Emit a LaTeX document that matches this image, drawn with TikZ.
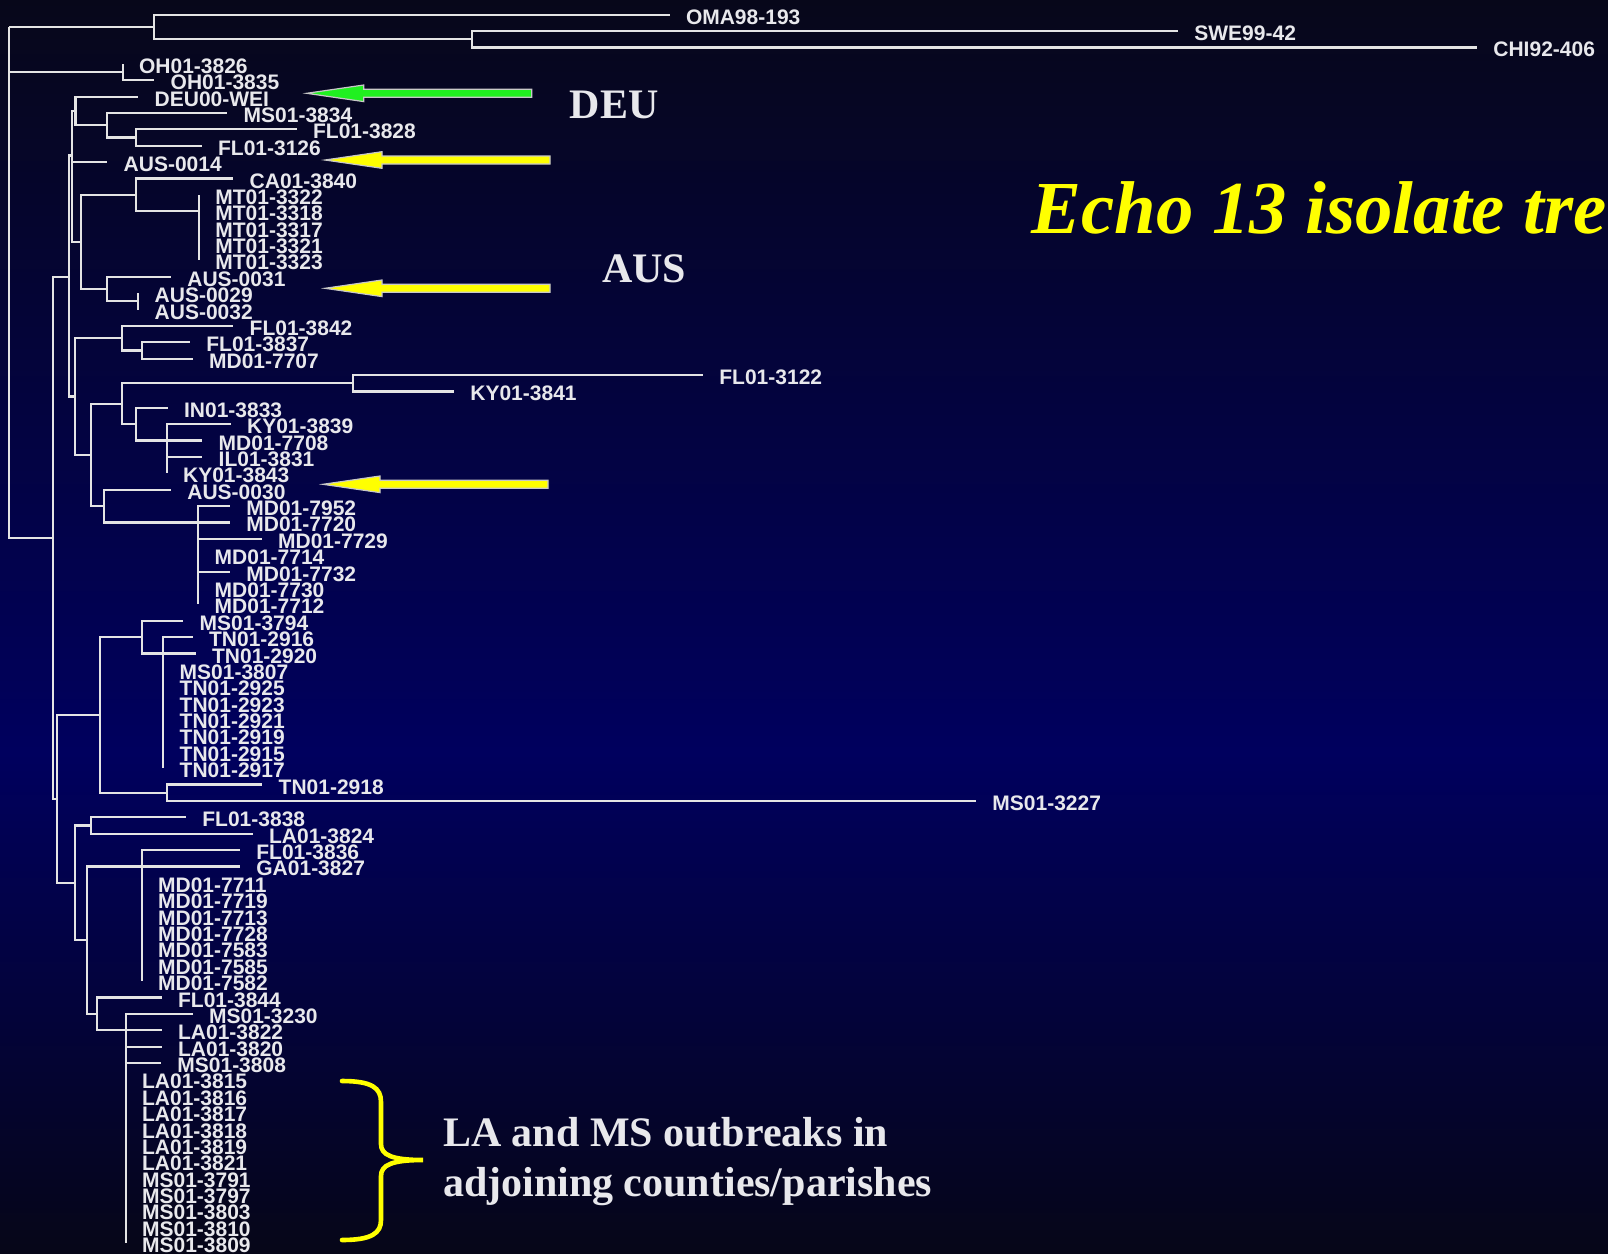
\documentclass[tikz,border=0pt]{standalone}
\usepackage{fontspec}
\setmainfont{Liberation Serif}
\newfontfamily\isofont{Liberation Sans}
\definecolor{bgtop}{HTML}{07071A}
\definecolor{bgmid}{HTML}{00005E}
\definecolor{bgbot}{HTML}{060618}
\definecolor{branchgray}{HTML}{E4E4E4}
\definecolor{labelgray}{HTML}{E8E8EC}
\definecolor{flaggreen}{HTML}{20F020}
\definecolor{flagyellow}{HTML}{FFFF00}
\definecolor{rimgray}{HTML}{C8C8C8}
\pgfdeclareverticalshading{navyfade}{100bp}{color(0bp)=(bgbot); color(25bp)=(bgbot);
   color(45bp)=(bgmid); color(75bp)=(bgtop); color(100bp)=(bgtop)}
% y position of the i-th isolate row
\newcommand{\rowy}[1]{14.7+16.38*#1}

\begin{document}
\begin{tikzpicture}[
   x=0.5pt, y=-0.5pt,
   branch/.style={draw=branchgray, line width=1.1pt},
   leaf/.style={anchor=west, inner xsep=8pt, inner ysep=1pt, text=labelgray,
      text height=9.5pt, text depth=0pt,
      font=\isofont\bfseries\fontsize{10.5}{11}\selectfont},
   tag/.style={anchor=base west, inner sep=0pt, text=labelgray,
      font=\bfseries\fontsize{21}{25.3}\selectfont},
   pointer/.style={draw=rimgray, line width=0.6pt, line join=miter},
   brace/.style={draw=flagyellow, line width=2.3pt, line cap=round}
]
\useasboundingbox (0,0) rectangle (1608,1254);
\shade[shading=navyfade] (0,0) rectangle (1608,1254);

% isolates
\node[leaf] (oma) at (669.6,\rowy{0}) {OMA98-193};
\node[leaf] (swe) at (1178,\rowy{1}) {SWE99-42};
\node[leaf] (chi) at (1477,\rowy{2}) {CHI92-406};
\node[leaf] (oh26) at (122.7,\rowy{3}) {OH01-3826};
\node[leaf] (oh35) at (154.3,\rowy{4}) {OH01-3835};
\node[leaf] (deu) at (138.3,\rowy{5}) {DEU00-WEI};
\node[leaf] (ms34) at (227.3,\rowy{6}) {MS01-3834};
\node[leaf] (fl28) at (296.7,\rowy{7}) {FL01-3828};
\node[leaf] (fl26) at (201.7,\rowy{8}) {FL01-3126};
\node[leaf] (aus14) at (107.3,\rowy{9}) {AUS-0014};
\node[leaf] (ca40) at (233.3,\rowy{10}) {CA01-3840};
\node[leaf] (mt22) at (199,\rowy{11}) {MT01-3322};
\node[leaf] (mt18) at (199,\rowy{12}) {MT01-3318};
\node[leaf] (mt17) at (199,\rowy{13}) {MT01-3317};
\node[leaf] (mt21) at (199,\rowy{14}) {MT01-3321};
\node[leaf] (mt23) at (199,\rowy{15}) {MT01-3323};
\node[leaf] (aus31) at (171,\rowy{16}) {AUS-0031};
\node[leaf] (aus29) at (138.3,\rowy{17}) {AUS-0029};
\node[leaf] (aus32) at (138.3,\rowy{18}) {AUS-0032};
\node[leaf] (fl42) at (233.3,\rowy{19}) {FL01-3842};
\node[leaf] (fl37) at (190,\rowy{20}) {FL01-3837};
\node[leaf] (md07) at (192.7,\rowy{21}) {MD01-7707};
\node[leaf] (fl22) at (703,\rowy{22}) {FL01-3122};
\node[leaf] (ky41) at (454,\rowy{23}) {KY01-3841};
\node[leaf] (in33) at (167.7,\rowy{24}) {IN01-3833};
\node[leaf] (ky39) at (230.7,\rowy{25}) {KY01-3839};
\node[leaf] (md08) at (202.3,\rowy{26}) {MD01-7708};
\node[leaf] (il31) at (202.3,\rowy{27}) {IL01-3831};
\node[leaf] (ky43) at (166.7,\rowy{28}) {KY01-3843};
\node[leaf] (aus30) at (171,\rowy{29}) {AUS-0030};
\node[leaf] (md52) at (230,\rowy{30}) {MD01-7952};
\node[leaf] (md20) at (230,\rowy{31}) {MD01-7720};
\node[leaf] (md29) at (261.7,\rowy{32}) {MD01-7729};
\node[leaf] (md14) at (198.3,\rowy{33}) {MD01-7714};
\node[leaf] (md32) at (230,\rowy{34}) {MD01-7732};
\node[leaf] (md30) at (198.3,\rowy{35}) {MD01-7730};
\node[leaf] (md12) at (198.3,\rowy{36}) {MD01-7712};
\node[leaf] (ms94) at (183.3,\rowy{37}) {MS01-3794};
\node[leaf] (tn16) at (192.7,\rowy{38}) {TN01-2916};
\node[leaf] (tn20) at (195.7,\rowy{39}) {TN01-2920};
\node[leaf] (ms07) at (163.3,\rowy{40}) {MS01-3807};
\node[leaf] (tn25) at (163.3,\rowy{41}) {TN01-2925};
\node[leaf] (tn23) at (163.3,\rowy{42}) {TN01-2923};
\node[leaf] (tn21) at (163.3,\rowy{43}) {TN01-2921};
\node[leaf] (tn19) at (163.3,\rowy{44}) {TN01-2919};
\node[leaf] (tn15) at (163.3,\rowy{45}) {TN01-2915};
\node[leaf] (tn17) at (163.3,\rowy{46}) {TN01-2917};
\node[leaf] (tn18) at (262.3,\rowy{47}) {TN01-2918};
\node[leaf] (ms27) at (976,\rowy{48}) {MS01-3227};
\node[leaf] (fl38) at (186,\rowy{49}) {FL01-3838};
\node[leaf] (la24) at (252.7,\rowy{50}) {LA01-3824};
\node[leaf] (fl36) at (240,\rowy{51}) {FL01-3836};
\node[leaf] (ga27) at (240,\rowy{52}) {GA01-3827};
\node[leaf] (md11) at (141.7,\rowy{53}) {MD01-7711};
\node[leaf] (md19) at (141.7,\rowy{54}) {MD01-7719};
\node[leaf] (md13) at (141.7,\rowy{55}) {MD01-7713};
\node[leaf] (md28) at (141.7,\rowy{56}) {MD01-7728};
\node[leaf] (md83) at (141.7,\rowy{57}) {MD01-7583};
\node[leaf] (md85) at (141.7,\rowy{58}) {MD01-7585};
\node[leaf] (md82) at (141.7,\rowy{59}) {MD01-7582};
\node[leaf] (fl44) at (161.7,\rowy{60}) {FL01-3844};
\node[leaf] (ms30) at (192.7,\rowy{61}) {MS01-3230};
\node[leaf] (la22) at (161.7,\rowy{62}) {LA01-3822};
\node[leaf] (la20) at (161.7,\rowy{63}) {LA01-3820};
\node[leaf] (ms08) at (161,\rowy{64}) {MS01-3808};
\node[leaf] (la15) at (125.7,\rowy{65}) {LA01-3815};
\node[leaf] (la16) at (125.7,\rowy{66}) {LA01-3816};
\node[leaf] (la17) at (125.7,\rowy{67}) {LA01-3817};
\node[leaf] (la18) at (125.7,\rowy{68}) {LA01-3818};
\node[leaf] (la19) at (125.7,\rowy{69}) {LA01-3819};
\node[leaf] (la21) at (125.7,\rowy{70}) {LA01-3821};
\node[leaf] (ms91) at (125.7,\rowy{71}) {MS01-3791};
\node[leaf] (ms97) at (125.7,\rowy{72}) {MS01-3797};
\node[leaf] (ms03) at (125.7,\rowy{73}) {MS01-3803};
\node[leaf] (ms10) at (125.7,\rowy{74}) {MS01-3810};
\node[leaf] (ms09) at (125.7,\rowy{75}) {MS01-3809};

% inner nodes of the tree
\coordinate (root) at (9.3,\rowy{0.75});
\coordinate (out) at (154,\rowy{0.75});
\coordinate (swch) at (471.6,\rowy{1.5});
\coordinate (oh) at (122.7,\rowy{3.5});
\coordinate (core) at (53.3,\rowy{31.94});
\coordinate (nb) at (69.3,\rowy{16});
\coordinate (na) at (72.3,\rowy{8.6});
\coordinate (ndeu) at (75.5,\rowy{5.875});
\coordinate (nms) at (106.7,\rowy{6.75});
\coordinate (nfl) at (135.7,\rowy{7.5});
\coordinate (nca) at (81,\rowy{13.875});
\coordinate (ncamt) at (135.7,\rowy{11});
\coordinate (nmt) at (199,\rowy{12});
\coordinate (naus) at (107.3,\rowy{16.75});
\coordinate (naus2) at (138.3,\rowy{17.5});
\coordinate (nc) at (75,\rowy{23.31});
\coordinate (nfl2) at (121.7,\rowy{19.75});
\coordinate (nfl3) at (141.7,\rowy{20.5});
\coordinate (nd) at (90.7,\rowy{26.875});
\coordinate (nj) at (121.7,\rowy{23.75});
\coordinate (nl) at (353.3,\rowy{22.5});
\coordinate (nm) at (136,\rowy{25});
\coordinate (nn) at (166.7,\rowy{26});
\coordinate (nk) at (104.3,\rowy{30});
\coordinate (no) at (198.3,\rowy{31});
\coordinate (ne) at (57.3,\rowy{47.875});
\coordinate (nf) at (100,\rowy{42.75});
\coordinate (nu) at (141.7,\rowy{38});
\coordinate (ntn) at (163.3,\rowy{39});
\coordinate (nv) at (166.7,\rowy{47.5});
\coordinate (ng) at (75,\rowy{53});
\coordinate (nw) at (90.7,\rowy{49.5});
\coordinate (nx) at (87.3,\rowy{56.5});
\coordinate (ny) at (141.7,\rowy{52});
\coordinate (nz) at (97.3,\rowy{61});
\coordinate (nla) at (125.7,\rowy{62});

% branches
\draw[branch] (root) |- (out) (root) |- (oh) (root) |- (core);
\draw[branch] (out) |- (oma.west) (out) |- (swch);
\draw[branch] (swch) |- (swe.west) (swch) |- (chi.west);
\draw[branch] (oh) |- (oh26.west) (oh) |- (oh35.west);
\draw[branch] (core) |- (nb) (core) |- (ne);
\draw[branch] (nb) |- (na) (nb) |- (nc);
\draw[branch] (na) |- (ndeu) (na) |- (aus14.west) (na) |- (nca);
\draw[branch] (ndeu) |- (deu.west) (ndeu) |- (nms);
\draw[branch] (nms) |- (ms34.west) (nms) |- (nfl);
\draw[branch] (nfl) |- (fl28.west) (nfl) |- (fl26.west);
\draw[branch] (nca) |- (ncamt) (nca) |- (naus);
\draw[branch] (ncamt) |- (ca40.west) (ncamt) |- (nmt);
\draw[branch] (nmt) |- (mt22.west) (nmt) |- (mt18.west) (nmt) |- (mt17.west)
   (nmt) |- (mt21.west) (nmt) |- (mt23.west);
\draw[branch] (naus) |- (aus31.west) (naus) |- (naus2);
\draw[branch] (naus2) |- (aus29.west) (naus2) |- (aus32.west);
\draw[branch] (nc) |- (nfl2) (nc) |- (nd);
\draw[branch] (nfl2) |- (fl42.west) (nfl2) |- (nfl3);
\draw[branch] (nfl3) |- (fl37.west) (nfl3) |- (md07.west);
\draw[branch] (nd) |- (nj) (nd) |- (nk);
\draw[branch] (nj) |- (nl) (nj) |- (nm);
\draw[branch] (nl) |- (fl22.west) (nl) |- (ky41.west);
\draw[branch] (nm) |- (in33.west) (nm) |- (nn);
\draw[branch] (nn) |- (ky39.west) (nn) |- (md08.west) (nn) |- (il31.west)
   (nn) |- (ky43.west);
\draw[branch] (nk) |- (aus30.west) (nk) |- (no);
\draw[branch] (no) |- (md52.west) (no) |- (md20.west) (no) |- (md29.west)
   (no) |- (md14.west) (no) |- (md32.west) (no) |- (md30.west) (no) |- (md12.west);
\draw[branch] (ne) |- (nf) (ne) |- (ng);
\draw[branch] (nf) |- (nu) (nf) |- (nv);
\draw[branch] (nu) |- (ms94.west) (nu) |- (ntn);
\draw[branch] (ntn) |- (tn16.west) (ntn) |- (tn20.west) (ntn) |- (ms07.west)
   (ntn) |- (tn25.west) (ntn) |- (tn23.west) (ntn) |- (tn21.west)
   (ntn) |- (tn19.west) (ntn) |- (tn15.west) (ntn) |- (tn17.west);
\draw[branch] (nv) |- (tn18.west) (nv) |- (ms27.west);
\draw[branch] (ng) |- (nw) (ng) |- (nx);
\draw[branch] (nw) |- (fl38.west) (nw) |- (la24.west);
\draw[branch] (nx) |- (ny) (nx) |- (nz);
\draw[branch] (ny) |- (fl36.west) (ny) |- (ga27.west) (ny) |- (md11.west)
   (ny) |- (md19.west) (ny) |- (md13.west) (ny) |- (md28.west)
   (ny) |- (md83.west) (ny) |- (md85.west) (ny) |- (md82.west);
\draw[branch] (nz) |- (fl44.west) (nz) |- (nla);
\draw[branch] (nla) |- (ms30.west) (nla) |- (la22.west) (nla) |- (la20.west)
   (nla) |- (ms08.west) (nla) |- (la15.west) (nla) |- (la16.west)
   (nla) |- (la17.west) (nla) |- (la18.west) (nla) |- (la19.west)
   (nla) |- (la21.west) (nla) |- (ms91.west) (nla) |- (ms97.west)
   (nla) |- (ms03.west) (nla) |- (ms10.west) (nla) |- (ms09.west);

% pointers
\coordinate (deutip) at (306.7,93.3);
\coordinate (aus14tip) at (325,160);
\coordinate (aus31tip) at (325,288.3);
\coordinate (aus30tip) at (323,484.3);
\filldraw[pointer, fill=flaggreen] (deutip) -- ++(57,-8.3) -- ++(0,4.3) -- ++(168,0)
   -- ++(0,8) -- ++(-168,0) -- ++(0,4.3) -- cycle;
\filldraw[pointer, fill=flagyellow] (aus14tip) -- ++(57,-8.3) -- ++(0,4.3) -- ++(168,0)
   -- ++(0,8) -- ++(-168,0) -- ++(0,4.3) -- cycle;
\filldraw[pointer, fill=flagyellow] (aus31tip) -- ++(57,-8.3) -- ++(0,4.3) -- ++(168,0)
   -- ++(0,8) -- ++(-168,0) -- ++(0,4.3) -- cycle;
\filldraw[pointer, fill=flagyellow] (aus30tip) -- ++(57,-8.3) -- ++(0,4.3) -- ++(168,0)
   -- ++(0,8) -- ++(-168,0) -- ++(0,4.3) -- cycle;

\node[tag] (deutag) at (569.3,118.3) {DEU};
\node[tag] (austag) at (601.7,282.7) {AUS};
\node[tag, text=flagyellow, font=\bfseries\itshape\fontsize{37.4}{40}\selectfont]
   (title) at (1031,233.3) {Echo 13 isolate tre};

% outbreak brace
\coordinate (bracetop) at (342,1081);
\coordinate (bracetip) at (423,1160);
\coordinate (bracebot) at (342,1240);
\draw[brace] (bracetop) .. controls (372,1081) and (381,1088) .. (381,1102)
   -- (381,1144) .. controls (381,1155) and (392,1160) .. (bracetip)
   .. controls (392,1160) and (381,1165) .. (381,1176)
   -- (381,1220) .. controls (381,1233) and (372,1240) .. (bracebot);
\node[tag, align=left] (outbreak) at (442.7,1196.7)
   {LA and MS outbreaks in\\adjoining counties/parishes};
\end{tikzpicture}
\end{document}
